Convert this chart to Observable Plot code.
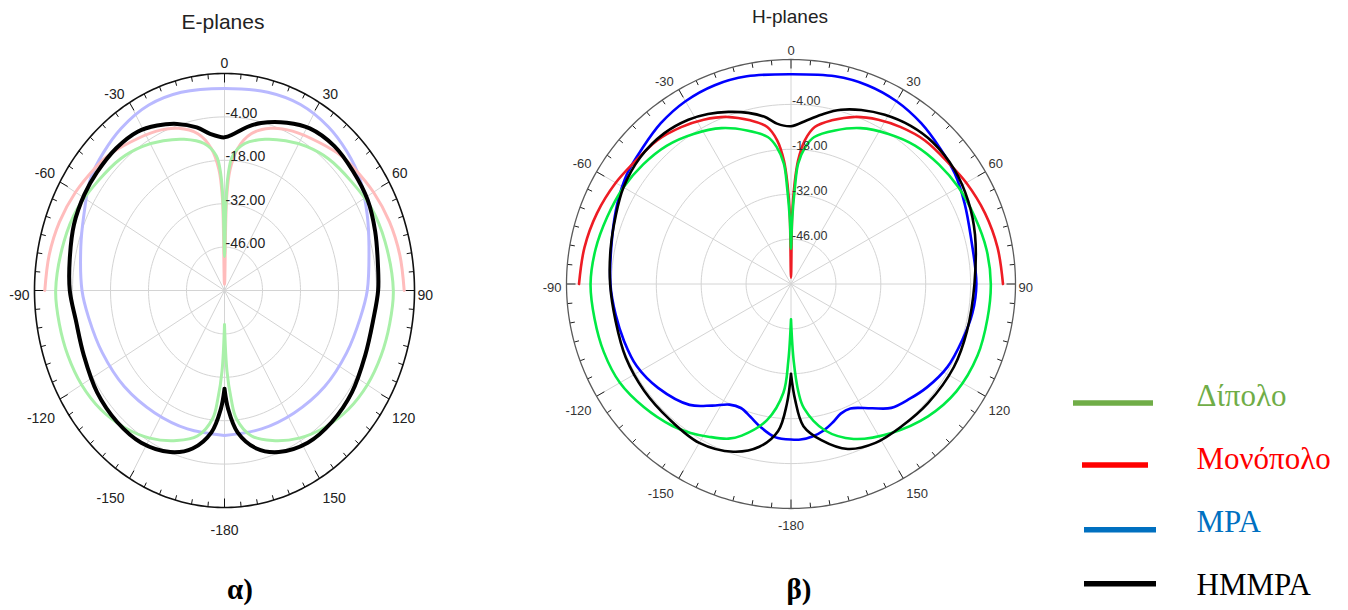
<!DOCTYPE html>
<html><head><meta charset="utf-8">
<script src="https://cdn.jsdelivr.net/npm/d3@7"></script>
<script src="https://cdn.jsdelivr.net/npm/@observablehq/plot@0.6"></script>
<style>
body{margin:0;background:#fff;}
#wrap{position:relative;width:1348px;height:610px;overflow:hidden;}
.panel{position:absolute;top:0;}
.panel svg{max-width:none;}
</style></head><body><div id="wrap"></div>
<script>
// ---------- scale / axis values ----------
const DB_MIN = -60, DB_MAX = 10;
const ringValues = [-46, -32, -18, -4];
const ringLabels = ["-46.00", "-32.00", "-18.00", "-4.00"];
const angleTicks = [0, 30, 60, 90, 120, 150, 180, -150, -120, -90, -60, -30];
const angleTickLabels = ["0", "30", "60", "90", "120", "150", "-180", "-150", "-120", "-90", "-60", "-30"];

// ---------- E-planes (α) ----------
const eDipoleAng = [-180,-178,-176,-174,-168,-160,-150,-140,-130,-120,-110,-100,-90,-75,-64,-53,-42,-33,-25,-17,-9,-4,-2,-1,0,1,2,4,9,17,25,33,42,53,64,75,90,100,110,120,130,140,150,160,168,174,176,178,180];
const eDipoleDb  = [-49,-34,-25,-18.5,-12,-8.5,-5,-2.4,-0.4,0.8,1.4,1.8,2.2,1.2,0.3,-1.5,-2.8,-4.6,-6.7,-9,-12,-16.4,-23,-33,-49,-33,-23,-16.4,-12,-9,-6.7,-4.6,-2.8,-1.5,0.3,1.2,2.2,1.8,1.4,0.8,-0.4,-2.4,-5,-8.5,-12,-18.5,-25,-34,-49];

const eMonoAng = [-90,-80,-70,-60,-50,-45,-36,-26,-18,-11,-6,-3,-1.5,0,1.5,3,6,11,18,26,36,45,50,60,70,80,90];
const eMonoDb  = [6.2,5.6,4.7,3.4,1.9,1.2,-0.9,-2.8,-5,-8.5,-14,-21,-30,-58,-30,-21,-14,-8.5,-5,-2.8,-0.9,1.2,1.9,3.4,4.7,5.6,6.2];

const eMpaAng = [-180,-163,-147,-130,-114,-100,-90,-75,-65,-54,-45,-36,-25,-14,0,14,25,36,45,54,65,75,90,100,114,130,147,163,180];
const eMpaDb  = [-13.2,-13.3,-12.9,-11.8,-10.7,-9.2,-7.5,-5.2,-2.8,1.1,3.0,4.7,6.0,5.9,5.2,5.9,6.2,5.2,3.6,1.6,-2,-4.9,-7.4,-9.2,-10.7,-11.8,-12.9,-13.3,-13.2];

const eHmmpaAng = [-180,-178,-174,-167,-159,-148,-137,-125,-112,-100,-90,-80,-69,-59,-51,-41,-32,-25,-18,-11,-6,0,4,9,14,23,31,41,51,61,71,82,90,100,112,125,137,148,159,167,174,178,180];
const eHmmpaDb  = [-28.3,-21.8,-14,-7.7,-4.2,-2.1,-2.0,-2.7,-4.1,-4.4,-3,-2.1,-0.6,0.2,0.5,0.8,0.4,-1.3,-3.5,-6.4,-9.2,-10.6,-9.3,-6.6,-4.3,-1.2,1.0,1.7,1.0,0.3,-1.3,-2.9,-3.4,-4.4,-4.1,-2.7,-2.0,-2.1,-4.2,-7.7,-14,-21.8,-28.3];

// ---------- H-planes (β) ----------
const hDipoleAng = [-180,-178,-176,-170,-162,-158,-152,-146,-140,-130,-120,-110,-100,-90,-80,-70,-60,-51,-42,-33,-24,-16,-9,-6,-3.4,-2.3,-1,0,1,2.3,3.4,6,9,16,24,33,42,51,60,70,80,90,100,111,123,134,146,158,167,174,176,178,180];
const hDipoleDb  = [-49,-36,-26,-16.9,-10.3,-8,-6,-4,-2.3,-0.2,1.6,2.1,2.2,2.5,1.9,1.0,0.3,-0.7,-2,-4.2,-6.8,-10.2,-13.6,-17,-22.4,-30,-40,-49,-40,-30,-22.4,-17,-13.6,-10.2,-6.8,-4.2,-2,-0.7,0.3,1,1.9,2.3,2.2,2.3,1.5,-0.6,-4,-7.9,-13.2,-21,-26,-36,-49];

const hMonoAng = [-90,-80,-70,-60,-53,-43,-35,-28,-21,-14,-8.6,-5.5,-3.3,-2,-1,0,1,2,3.3,5.5,8.6,14,21,28,35,43,53,60,70,80,90];
const hMonoDb  = [6.1,5.4,4.4,3.1,2,1.2,-0.3,-2,-4.2,-7.4,-10.5,-15,-21.4,-29,-38,-58,-38,-29,-21.4,-15,-10.5,-7.4,-4.2,-2,-0.3,1.2,2,3.1,4.4,5.4,6.1];

const hMpaAng = [-180,-174,-168,-163,-158,-153,-147,-140,-128,-118,-109,-100,-90,-75,-65,-56,-48,-39,-30,-21,-12,0,12,21,30,39,48,56,65,75,90,99,108,118,127,134,141,147,154.5,159,163,167.4,172,176.5,180];
const hMpaDb  = [-11.5,-12,-14.4,-16.7,-18.3,-17.8,-14.8,-10.8,-7.4,-5.5,-5,-4.5,-3.7,-2.3,-0.3,1.6,2.7,4.5,5.8,6.4,6.2,5.4,6.2,6.4,5.8,4.5,2.8,1.6,-0.3,-2,-2.2,-2.7,-3.8,-4.8,-6.7,-8.5,-10.3,-13.8,-17,-16.7,-15,-13.2,-12,-11.4,-11.5];

const hHmmpaAng = [-180,-178,-175,-169,-161,-150,-138,-126,-114,-102,-90,-79,-69,-60,-50,-40,-32,-26,-20,-14,-9,-5,0,5.6,11,16,22,29,37,45,55,65,75,90,105,117,131,142,152,161,169,175,178,180];
const hHmmpaDb  = [-32,-22.5,-14,-8.3,-4.7,-2.8,-3.3,-3.4,-3.6,-4.1,-3.6,-2.7,-1.4,0.3,1.4,1.4,0.4,-1,-2.9,-5,-7.2,-9.8,-10.8,-8.7,-5.9,-3.5,-1.5,0.3,1.8,2.5,2.2,1.0,-0.6,-2.8,-3.2,-3,-3.4,-3.8,-3.9,-5.6,-10.4,-15.5,-24,-32];

// ---------- legend ----------
const legendNames  = ["Δίπολο", "Μονόπολο", "MPA", "HMMPA"];
const legendColors = ["#70ad47", "#ff0000", "#0070c0", "#000000"];

// ---------- helpers ----------
const rad = a => a * Math.PI / 180;
const toR = v => (v - DB_MIN) / (DB_MAX - DB_MIN);
const pts = (ang, db) => ang.map((a, i) => ({a, v: db[i]}));
const px = d => toR(d.v) * Math.sin(rad(d.a));
const py = d => toR(d.v) * Math.cos(rad(d.a));

function panel(cfg) {
  const {width, height, ml, mr, mt, mb} = cfg;
  const rxPx = (width - ml - mr) / 2, ryPx = (height - mt - mb) / 2;
  const ringPts = ringValues.flatMap(v => d3.range(0, 361, 2).map(a => ({a, v})));
  const spokes = d3.range(0, 360, 30);
  const ticks = d3.range(0, 360, 5);
  const tl = a => (a % 30 === 0 ? cfg.majorLen : cfg.minorLen);
  const lab = angleTicks.map((a, i) => ({a, t: angleTickLabels[i]}));
  const s = a => Math.sin(rad(a)), c = a => Math.cos(rad(a));
  const ldx = a => (Math.abs(s(a)) < 0.01 ? 0 : (s(a) < 0 ? cfg.dxL : cfg.dxR));
  const ldy = a => {
    const cc = c(a);
    if (cc > 0.99) return cfg.dyTop;
    if (cc > 0.01) return cfg.dyUp;
    if (cc > -0.01) return cfg.dyMid;
    if (cc > -0.99) return cfg.dyLow;
    return cfg.dyBot;
  };
  const lx = d => s(d.a) + ldx(d.a) / rxPx;
  const ly = d => c(d.a) - ldy(d.a) / ryPx;
  const textStyle = {fontSize: cfg.labelSize, fill: cfg.labelColor, text: "t", x: lx, y: ly};
  return Plot.plot({
    width, height, marginLeft: ml, marginRight: mr, marginTop: mt, marginBottom: mb,
    x: {domain: [-1, 1], axis: null},
    y: {domain: [-1, 1], axis: null},
    style: {fontFamily: "Arial, 'Liberation Sans', sans-serif", background: "transparent"},
    marks: [
      Plot.line(ringPts, {x: px, y: py, z: "v", stroke: "#d4d4d4", strokeWidth: 1}),
      Plot.link(spokes, {x1: () => 0, y1: () => 0, x2: a => s(a), y2: a => c(a), stroke: "#d4d4d4", strokeWidth: 1}),
      Plot.link(ticks, {x1: a => s(a), y1: a => c(a),
        x2: a => s(a) * (1 - tl(a) / rxPx), y2: a => c(a) * (1 - tl(a) / ryPx),
        stroke: cfg.tickColor, strokeWidth: 1}),
      Plot.line(d3.range(0, 361, 1), {x: a => s(a), y: a => c(a), stroke: cfg.outerColor, strokeWidth: cfg.outerWidth}),
      ...cfg.series.map(ser => Plot.line(ser.data, {x: px, y: py, stroke: ser.color, strokeWidth: ser.width, curve: "catmull-rom", strokeLinejoin: "round"})),
      Plot.text(lab.filter(d => Math.abs(s(d.a)) < 0.01), {...textStyle, textAnchor: "middle"}),
      Plot.text(lab.filter(d => s(d.a) <= -0.01), {...textStyle, textAnchor: "end"}),
      Plot.text(lab.filter(d => s(d.a) >= 0.01), {...textStyle, textAnchor: "start"}),
      Plot.text(ringValues, {x: () => 0, y: v => toR(v), text: (v, i) => ringLabels[i], textAnchor: "start",
        dx: 1, dy: -3.5, fontSize: cfg.radialSize, fill: cfg.labelColor})
    ]
  });
}

const wrap = document.getElementById("wrap");
function place(node, left) {
  const div = document.createElement("div");
  div.className = "panel";
  div.style.left = left + "px";
  div.appendChild(node);
  wrap.appendChild(div);
}

place(panel({
  width: 460, height: 610, ml: 34, mr: 46, mt: 73, mb: 103,
  majorLen: 9, minorLen: 5, tickColor: "#111", outerColor: "#111", outerWidth: 1.6,
  labelSize: 14, radialSize: 14, labelColor: "#222",
  dxL: -5, dxR: 3, dyTop: -10, dyUp: -8, dyMid: 5, dyLow: 20, dyBot: 23,
  series: [
    {data: pts(eMpaAng, eMpaDb), color: "#b9b9ff", width: 3},
    {data: pts(eMonoAng, eMonoDb), color: "#ffbcbc", width: 3},
    {data: pts(eDipoleAng, eDipoleDb), color: "#a9f0a9", width: 3},
    {data: pts(eHmmpaAng, eHmmpaDb), color: "#000000", width: 4}
  ]
}), 0);

place(panel({
  width: 500, height: 610, ml: 26, mr: 25, mt: 59, mb: 102,
  majorLen: 9, minorLen: 5, tickColor: "#222", outerColor: "#5a5a5a", outerWidth: 1.3,
  labelSize: 13, radialSize: 12.5, labelColor: "#333",
  dxL: -5, dxR: 3, dyTop: -9, dyUp: -8, dyMid: 4, dyLow: 15, dyBot: 17,
  series: [
    {data: pts(hMpaAng, hMpaDb), color: "#0000ff", width: 2.6},
    {data: pts(hMonoAng, hMonoDb), color: "#ee1c24", width: 2.6},
    {data: pts(hDipoleAng, hDipoleDb), color: "#00ea44", width: 2.6},
    {data: pts(hHmmpaAng, hHmmpaDb), color: "#000000", width: 2.6}
  ]
}), 540);

// ---------- titles, captions, legend ----------
const NS = "http://www.w3.org/2000/svg";
const over = document.createElementNS(NS, "svg");
over.setAttribute("width", 1348); over.setAttribute("height", 610);
over.style.position = "absolute"; over.style.left = "0"; over.style.top = "0"; over.style.pointerEvents = "none";
wrap.appendChild(over);
function txt(x, y, str, attrs) {
  const t = document.createElementNS(NS, "text");
  t.setAttribute("x", x); t.setAttribute("y", y); t.textContent = str;
  for (const k in attrs) t.setAttribute(k, attrs[k]);
  over.appendChild(t);
}
function seg(x1, x2, y, color) {
  const l = document.createElementNS(NS, "line");
  l.setAttribute("x1", x1); l.setAttribute("x2", x2); l.setAttribute("y1", y); l.setAttribute("y2", y);
  l.setAttribute("stroke", color); l.setAttribute("stroke-width", 5.5);
  over.appendChild(l);
}
txt(223, 28.5, "E-planes", {"font-family": "Arial, 'Liberation Sans', sans-serif", "font-size": 21, "text-anchor": "middle", fill: "#222"});
txt(790, 23, "H-planes", {"font-family": "Arial, 'Liberation Sans', sans-serif", "font-size": 19, "text-anchor": "middle", fill: "#222"});
const serif = "'Liberation Serif', 'Times New Roman', serif";
txt(240, 599, "α)", {"font-family": serif, "font-size": 29, "font-weight": "bold", "text-anchor": "middle", fill: "#000"});
txt(799, 599, "β)", {"font-family": serif, "font-size": 29, "font-weight": "bold", "text-anchor": "middle", fill: "#000"});
const legLines = [[1073, 1153, 403], [1082, 1148, 465], [1084, 1156, 529.7], [1084, 1156, 583.7]];
const legBase = [406, 469, 532, 595];
legendNames.forEach((n, i) => {
  seg(legLines[i][0], legLines[i][1], legLines[i][2], legendColors[i]);
  txt(1196.5, legBase[i], n, {"font-family": serif, "font-size": 31, fill: legendColors[i]});
});
</script></body></html>
